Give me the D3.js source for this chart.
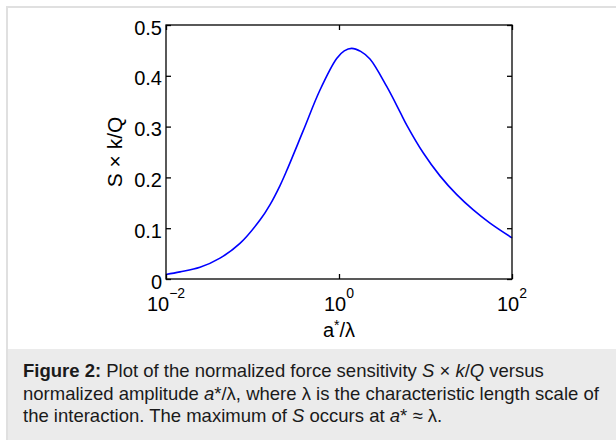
<!DOCTYPE html>
<html>
<head>
<meta charset="utf-8">
<script src="https://cdn.jsdelivr.net/npm/d3@7"></script>
<style>
  body { margin: 0; background: #fff; }
  svg { display: block; font-family: "Liberation Sans", Arial, sans-serif; }
</style>
</head>
<body>
<svg id="chart" width="616" height="440"></svg>
<script>
// a*/lambda values (log axis)
var amp = [0.01, 0.0145, 0.0247, 0.0421, 0.0716, 0.122, 0.159, 0.208, 0.248, 0.386,
           0.603, 0.94, 1.15, 1.40, 1.78, 2.28, 3.56, 5.07, 6.07, 9.44, 14.7, 23.0, 35.7, 55.7, 100];
// S x k/Q
var sens = [0.009, 0.014, 0.023, 0.041, 0.070, 0.116, 0.146, 0.184, 0.213, 0.292,
            0.372, 0.434, 0.449, 0.454, 0.448, 0.433, 0.379, 0.329, 0.303, 0.248, 0.203, 0.166, 0.136, 0.110, 0.081];
var xTicks = [0.01, 1, 100];
var xTickExp = ["\u22122", "0", "2"];
var yTicks = [0, 0.1, 0.2, 0.3, 0.4, 0.5];
var captionLines = [
  [["Figure 2:", "b"], [" Plot of the normalized force sensitivity ", ""], ["S", "i"], [" \u00d7 ", ""], ["k", "i"], ["/", ""], ["Q", "i"], [" versus", ""]],
  [["normalized amplitude ", ""], ["a", "i"], ["*/\u03bb, where \u03bb is the characteristic length scale of", ""]],
  [["the interaction. The maximum of ", ""], ["S", "i"], [" occurs at ", ""], ["a", "i"], ["* \u2248 \u03bb.", ""]]
];

var svg = d3.select("#chart");

// page frame and caption band
svg.append("rect").attr("x", 8).attr("y", 349).attr("width", 608).attr("height", 91).attr("fill", "#ebebeb");
svg.append("path").attr("d", "M7,440V7H616").attr("fill", "none").attr("stroke", "#e0e0e0").attr("stroke-width", 2);

var pLeft = 166, pRight = 512, pTop = 25, pBottom = 279;

var x = d3.scaleLog().domain([0.01, 100]).range([pLeft, pRight]);
var y = d3.scaleLinear().domain([0, 0.5]).range([pBottom, pTop]);

var g = svg.append("g");

// curve
var line = d3.line()
  .x(function(d, i) { return x(amp[i]); })
  .y(function(d, i) { return y(sens[i]); })
  .curve(d3.curveCatmullRom.alpha(0.5));

g.append("path")
  .datum(sens)
  .attr("d", line)
  .attr("fill", "none")
  .attr("stroke", "#0000ff")
  .attr("stroke-width", 1.6);

// ticks, inward on all four sides
var yl = g.append("g").attr("transform", "translate(" + pLeft + ",0)")
  .call(d3.axisLeft(y).tickValues(yTicks).tickSize(-5).tickPadding(4)
    .tickFormat(function(d) { return d === 0 ? "0" : d.toFixed(1); }));
var yr = g.append("g").attr("transform", "translate(" + pRight + ",0)")
  .call(d3.axisRight(y).tickValues(yTicks).tickSize(-5).tickFormat(""));
var xb = g.append("g").attr("transform", "translate(0," + pBottom + ")")
  .call(d3.axisBottom(x).tickValues(xTicks).tickSize(-5).tickFormat(""));
var xt = g.append("g").attr("transform", "translate(0," + pTop + ")")
  .call(d3.axisTop(x).tickValues(xTicks).tickSize(-5).tickFormat(""));

[yl, yr, xb, xt].forEach(function(a) {
  a.select(".domain").remove();
  a.selectAll("line").attr("stroke", "#000").attr("stroke-width", 1.3);
});
yl.selectAll("text").attr("font-size", 20).attr("fill", "#000")
  .attr("dy", "0.45em").attr("font-family", "Liberation Sans, Arial, sans-serif");

// box
g.append("rect")
  .attr("x", pLeft).attr("y", pTop)
  .attr("width", pRight - pLeft).attr("height", pBottom - pTop)
  .attr("fill", "none").attr("stroke", "#000").attr("stroke-width", 1.3);

// x tick labels as powers of ten
xTicks.forEach(function(v, i) {
  var t = g.append("text")
    .attr("x", x(v)).attr("y", 311)
    .attr("text-anchor", "middle")
    .attr("font-size", 20).attr("fill", "#000");
  t.append("tspan").text("10");
  t.append("tspan").attr("font-size", 14).attr("dy", -13).text(xTickExp[i]);
});

// axis titles
var xlab = g.append("text")
  .attr("x", x(1)).attr("y", 337)
  .attr("text-anchor", "middle").attr("font-size", 20).attr("fill", "#000");
xlab.append("tspan").text("a");
xlab.append("tspan").attr("font-size", 14).attr("dy", -7).text("*");
xlab.append("tspan").attr("dy", 7).text("/\u03bb");

g.append("text")
  .attr("transform", "translate(122," + ((pTop + pBottom) / 2) + ") rotate(-90)")
  .attr("text-anchor", "middle").attr("font-size", 21).attr("fill", "#000")
  .text("S \u00d7 k/Q");

// caption
captionLines.forEach(function(parts, i) {
  var t = svg.append("text")
    .attr("x", 23).attr("y", 377 + i * 22.5)
    .attr("font-size", 18.5).attr("fill", "#1a1a1a");
  parts.forEach(function(p) {
    t.append("tspan")
      .attr("font-weight", p[1] === "b" ? "bold" : null)
      .attr("font-style", p[1] === "i" ? "italic" : null)
      .text(p[0]);
  });
});
</script>
</body>
</html>
